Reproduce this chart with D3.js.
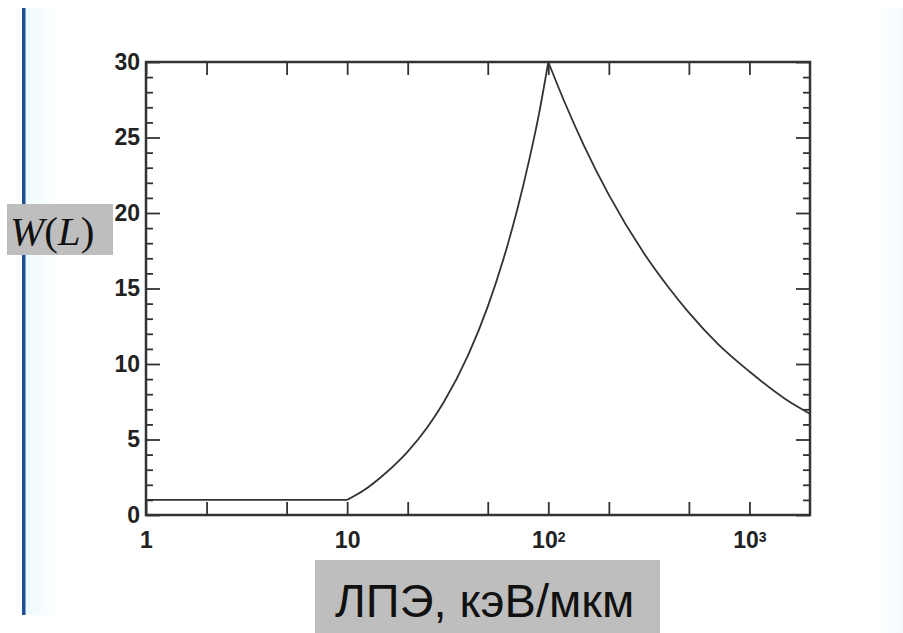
<!DOCTYPE html>
<html lang="ru">
<head>
  <meta charset="UTF-8">
  <title>W(L) — ЛПЭ, кэВ/мкм</title>
  <script src="https://d3js.org/d3.v7.min.js"></script>
  <style>
    body { margin: 0; background: #fff; }
    .tick text { font-family: "Liberation Sans", Arial, sans-serif; font-weight: bold; font-size: 23px; fill: #222; }
    .tick line { stroke: #333; stroke-width: 1.8px; }
    .domain { display: none; }
  </style>
</head>
<body>
  <div id="chart"></div>

  <script>
    // flat part, rising part and falling part of W(L)
    const flatL = [1, 10];
    const flatW = [1, 1];
    const riseL = [10, 12, 15, 20, 25, 30, 40, 50, 60, 70, 80, 90, 100];
    const riseW = [1, 1.6, 2.6, 4.2, 5.8, 7.4, 10.6, 13.8, 17.0, 20.2, 23.4, 26.6, 30];
    const fallL = [100, 120, 150, 200, 300, 400, 500, 700, 1000, 1500, 2000];
    const fallW = [30, 27.4, 24.5, 21.2, 17.3, 15.0, 13.4, 11.3, 9.5, 7.7, 6.7];

    const xTicks = [1, 2, 5, 10, 20, 50, 100, 200, 500, 1000];
    // tick label = base + exponent (exponent drawn as superscript)
    const xTickLabels = { 1: ["1", ""], 10: ["10", ""], 100: ["10", "2"], 1000: ["10", "3"] };
    const yTicks = [0, 5, 10, 15, 20, 25, 30];
    const yMinorTicks = d3.range(0, 31, 1).filter(v => v % 5 !== 0);

    const yLabel = "W(L)";
    const xLabel = "ЛПЭ, кэВ/мкм";

    const W = 903, H = 633;
    const plot = { left: 146, right: 810, top: 62, bottom: 515 };

    const svg = d3.select("#chart")
      .append("svg")
      .attr("width", W)
      .attr("height", H);

    // scan background: blue rule on the left, very faint tint strips
    const defs = svg.append("defs");
    const grad = defs.append("linearGradient").attr("id", "tintL");
    grad.append("stop").attr("offset", "0%").attr("stop-color", "#eefafc");
    grad.append("stop").attr("offset", "100%").attr("stop-color", "#ffffff");
    const gradR = defs.append("linearGradient").attr("id", "tintR");
    gradR.append("stop").attr("offset", "0%").attr("stop-color", "#ffffff");
    gradR.append("stop").attr("offset", "100%").attr("stop-color", "#f5fbfd");

    svg.append("rect").attr("x", 25).attr("y", 8).attr("width", 35).attr("height", 607).attr("fill", "url(#tintL)");
    svg.append("rect").attr("x", 875).attr("y", 8).attr("width", 28).attr("height", 625).attr("fill", "url(#tintR)");
    svg.append("rect").attr("x", 22).attr("y", 8).attr("width", 3.5).attr("height", 607).attr("fill", "#1d4f91");

    const x = d3.scaleLog()
      .domain([1, 2000])
      .range([plot.left, plot.right]);

    const y = d3.scaleLinear()
      .domain([0, 30])
      .range([plot.bottom, plot.top]);

    // axes, ticks pointing inward
    const xAxis = svg.append("g")
      .attr("transform", `translate(0,${plot.bottom})`)
      .call(d3.axisBottom(x).tickValues(xTicks).tickSize(-13).tickPadding(17)
        .tickFormat(d => xTickLabels[d] ? xTickLabels[d][0] : ""));

    xAxis.selectAll(".tick text")
      .filter(d => xTickLabels[d] && xTickLabels[d][1])
      .append("tspan")
      .attr("dy", "-0.45em")
      .style("font-size", "14px")
      .text(d => xTickLabels[d][1]);

    svg.append("g")
      .attr("transform", `translate(0,${plot.top})`)
      .call(d3.axisTop(x).tickValues(xTicks).tickSize(-13).tickFormat(""));

    svg.append("g")
      .attr("transform", `translate(${plot.left},0)`)
      .call(d3.axisLeft(y).tickValues(yTicks).tickSize(-14).tickPadding(6));

    svg.append("g")
      .attr("transform", `translate(${plot.left},0)`)
      .call(d3.axisLeft(y).tickValues(yMinorTicks).tickSize(-7).tickFormat(""));

    svg.append("g")
      .attr("transform", `translate(${plot.right},0)`)
      .call(d3.axisRight(y).tickValues(yTicks).tickSize(-14).tickFormat(""));

    svg.append("g")
      .attr("transform", `translate(${plot.right},0)`)
      .call(d3.axisRight(y).tickValues(yMinorTicks).tickSize(-7).tickFormat(""));

    // frame
    svg.append("rect")
      .attr("x", plot.left)
      .attr("y", plot.top)
      .attr("width", plot.right - plot.left)
      .attr("height", plot.bottom - plot.top)
      .attr("fill", "none")
      .attr("stroke", "#333")
      .attr("stroke-width", 2.5);

    // curve, drawn piece by piece so the corners stay sharp
    const line = d3.line()
      .x(d => x(d[0]))
      .y(d => y(d[1]))
      .curve(d3.curveMonotoneX);

    [[flatL, flatW], [riseL, riseW], [fallL, fallW]].forEach(([ls, ws]) => {
      svg.append("path")
        .datum(d3.zip(ls, ws))
        .attr("fill", "none")
        .attr("stroke", "#333")
        .attr("stroke-width", 1.8)
        .attr("d", line);
    });

    // y label in grey box
    svg.append("rect")
      .attr("x", 7).attr("y", 204)
      .attr("width", 106).attr("height", 51)
      .attr("fill", "#bebebe");

    const yl = svg.append("text")
      .attr("x", 10)
      .attr("y", 245)
      .style("font-family", "'Liberation Serif', 'Times New Roman', serif")
      .style("font-size", "41px")
      .attr("fill", "#111");
    yl.append("tspan").style("font-style", "italic").text(yLabel[0]);
    yl.append("tspan").text(yLabel[1]);
    yl.append("tspan").style("font-style", "italic").text(yLabel[2]);
    yl.append("tspan").text(yLabel[3]);

    // x label in grey box
    svg.append("rect")
      .attr("x", 315).attr("y", 560)
      .attr("width", 345).attr("height", 73)
      .attr("fill", "#bebebe");

    svg.append("text")
      .attr("x", 335)
      .attr("y", 617)
      .style("font-family", "'Liberation Sans', Arial, sans-serif")
      .style("font-size", "47px")
      .attr("fill", "#111")
      .text(xLabel);
  </script>
</body>
</html>
